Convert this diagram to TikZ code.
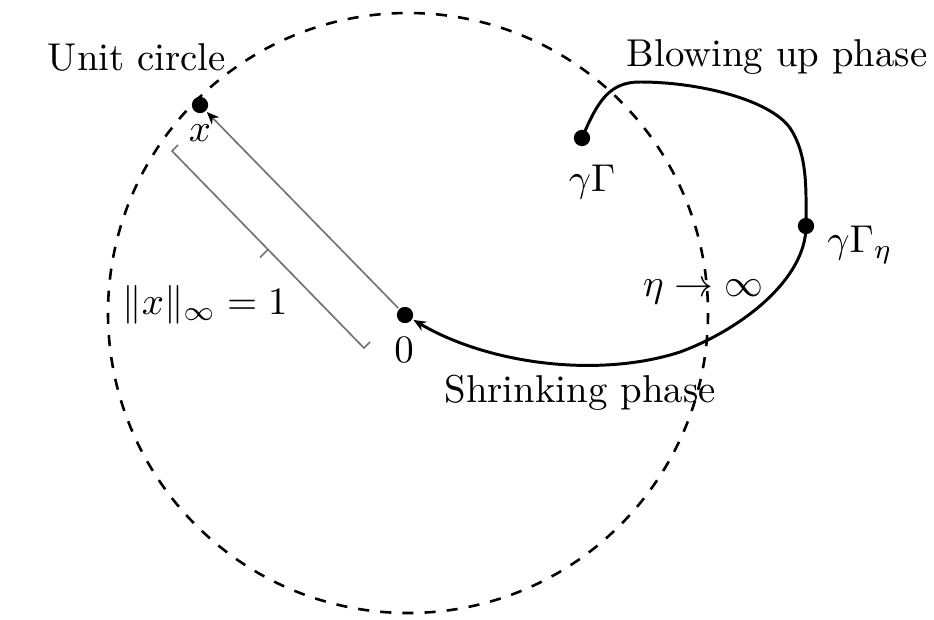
\documentclass[tikz,border=0pt]{standalone}
\usetikzlibrary{arrows.meta, calc}

\begin{document}
\begin{tikzpicture}[x=0.0095cm, y=-0.0095cm, >={Stealth[length=3.4pt, width=2.8pt]}, line width=0.8pt,
    every node/.style={scale=1.05},
    dot/.style={circle, fill, inner sep=0pt, minimum size=4.2pt}]
  \useasboundingbox (0,0) rectangle (934,619);
  % circulo unidad
  \draw[dashed, line width=0.7pt] (408,313) circle (300);
  \node at (137,57){Unit circle};
  % puntos
  \node[dot] (O) at (405,315){};
  \node[dot] (X) at (200,105){};
  \node[dot] (G) at (582,138){};
  \node[dot] (Geta) at (806,226){};
  \node at (404,350){$0$};
  \node at (200,133){$x$};
  \node at (592,182){$\gamma\Gamma$};
  \node at (860,245){$\gamma\Gamma_\eta$};
  % radio y corchete
  \draw[black!55, line width=0.45pt, -{Stealth[length=3.4pt, width=2.8pt, black]}] (O)--(X);
  \coordinate (BraceA) at (172,151);
  \coordinate (BraceB) at (364,348);
  \draw[black!55, line width=0.45pt] (BraceA) ++(6,-6) -- (BraceA) -- (BraceB) -- ++(6,-6);
  \draw[black!55, line width=0.45pt] ($(BraceA)!0.5!(BraceB)$) -- ++(-8,8);
  \node at (205,305){$\|x\|_\infty = 1$};
  % trayectoria
  \draw[->] (G.center) .. controls (598,100) and (610,82) .. (640,82)
    .. controls (700,82) and (770,100) .. (790,128)
    .. controls (808,155) and (806,190) .. (Geta.center)
    .. controls (806,280) and (740,330) .. (680,352)
    .. controls (600,378) and (490,365) .. (O);
  \node at (777,57){Blowing up phase};
  \node at (703,292){$\eta\to\infty$};
  \node at (580,393){Shrinking phase};
\end{tikzpicture}
\end{document}
